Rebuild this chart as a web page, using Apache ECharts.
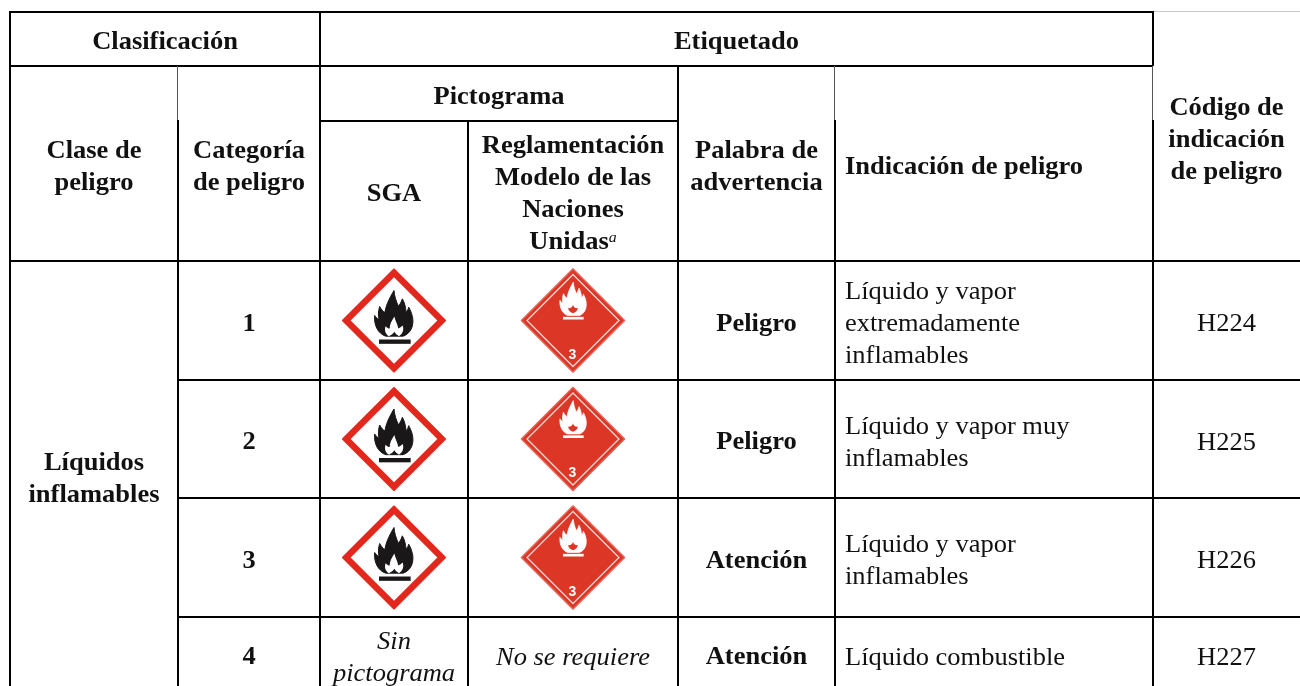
<!DOCTYPE html>
<html><head><meta charset="utf-8">
<style>html,body{margin:0;padding:0;background:#fff}#c{width:1300px;height:686px}</style>
<script src="https://cdn.jsdelivr.net/npm/echarts@6/dist/echarts.min.js"></script>
</head><body><div id="c"></div>
<script>
// Table grid (axis units equal pixels)
const columnEdges = [10, 178, 320, 468, 678, 835, 1153, 1300];
const rowEdges = [12, 66, 121, 261, 380, 498, 617, 691];

// Header cells: [first column edge, last column edge, first row edge, last row edge, lines]
const headerCells = [
  [0, 2, 0, 1, ['Clasificación']],
  [2, 6, 0, 1, ['Etiquetado']],
  [0, 1, 1, 3, ['Clase de', 'peligro']],
  [1, 2, 1, 3, ['Categoría', 'de peligro']],
  [2, 4, 1, 2, ['Pictograma']],
  [2, 3, 2, 3, ['SGA']],
  [3, 4, 2, 3, ['Reglamentación', 'Modelo de las', 'Naciones', 'Unidas{sup|a}']],
  [4, 5, 1, 3, ['Palabra de', 'advertencia']],
  [6, 7, 0, 3, ['Código de', 'indicación', 'de peligro']]
];
const headerLeftCells = [[5, 6, 1, 3, ['Indicación de peligro']]];
const hazardClass = ['Líquidos', 'inflamables'];
const categories = ['1', '2', '3', '4'];
const signalWords = ['Peligro', 'Peligro', 'Atención', 'Atención'];
const statements = [
  ['Líquido y vapor', 'extremadamente', 'inflamables'],
  ['Líquido y vapor muy', 'inflamables'],
  ['Líquido y vapor', 'inflamables'],
  ['Líquido combustible']
];
const codes = ['H224', 'H225', 'H226', 'H227'];
const noPictogramGHS = ['Sin', 'pictograma'];
const noPictogramUN = ['No se requiere'];
const pictogramRows = [3, 4, 5];

// Rules as [edge, from, to, tone]
const horizontalRules = [
  [0, 0, 6, 0], [0, 6, 7, 2], [1, 0, 6, 0], [2, 2, 4, 0],
  [3, 0, 7, 0], [4, 1, 7, 0], [5, 1, 7, 0], [6, 1, 7, 0]
];
const verticalRules = [
  [0, 0, 7, 0], [1, 1, 2, 1], [1, 2, 7, 0], [2, 0, 7, 0], [3, 2, 7, 0],
  [4, 1, 7, 0], [5, 1, 2, 1], [5, 2, 7, 0], [6, 0, 1, 0], [6, 1, 2, 1], [6, 2, 7, 0]
];

const INK = '#111111';
const STRETCH = 1.06, SIZE = 25, PITCH = 32;
const FAMILY = '"Liberation Serif","Times New Roman",serif';
const tones = [{ c: '#000', w: 2 }, { c: '#555', w: 1 }, { c: '#c8c8c8', w: 1 }];

const textCells = [];
function addCell(c0, c1, r0, r1, lines, weight, italic, align) {
  textCells.push({ c0, c1, r0, r1, lines, weight, italic, align });
}
headerCells.forEach(h => addCell(h[0], h[1], h[2], h[3], h[4], 'bold', false, 'center'));
headerLeftCells.forEach(h => addCell(h[0], h[1], h[2], h[3], h[4], 'bold', false, 'left'));
addCell(0, 1, 3, 7, hazardClass, 'bold', false, 'center');
categories.forEach((t, i) => {
  addCell(1, 2, 3 + i, 4 + i, [t], 'bold', false, 'center');
  addCell(4, 5, 3 + i, 4 + i, [signalWords[i]], 'bold', false, 'center');
  addCell(5, 6, 3 + i, 4 + i, statements[i], 'normal', false, 'left');
  addCell(6, 7, 3 + i, 4 + i, [codes[i]], 'normal', false, 'center');
});
addCell(2, 3, 6, 7, noPictogramGHS, 'normal', true, 'center');
addCell(3, 4, 6, 7, noPictogramUN, 'normal', true, 'center');

const FLAME = 'M140 212C118 205 104 180 107 150C111 156 115 160 120 163C117 150 118 135 122 123C127 132 132 138 138 141C140 122 150 100 165 75C166 92 172 108 178 122C182 118 187 110 190 100C197 112 200 125 201 140C205 136 208 131 209 125C218 140 224 160 221 176C219 192 208 207 192 212Z';
const INNER = 'M150 212C140 206 135 195 140 182C144 187 148 189 152 189C152 177 158 166 166 153C169 166 176 177 178 189C183 187 187 184 191 180C196 194 190 206 180 212C175 209 170 206 166 199C162 206 156 209 150 212Z';
const diamond = r => `M165 ${165 - r}L${165 + r} 165L165 ${165 + r}L${165 - r} 165Z`;

function ghsPictogram(cx, cy) {
  return { type: 'group', x: cx, y: cy, scaleX: 1 / 3, scaleY: 1 / 3, children: [{
    type: 'group', x: -165, y: -165, children: [
      { type: 'path', shape: { pathData: diamond(153) }, style: { fill: '#e2281c', stroke: '#e2281c', lineWidth: 6, lineJoin: 'round' } },
      { type: 'path', shape: { pathData: diamond(130) }, style: { fill: '#fff' } },
      { type: 'path', shape: { pathData: FLAME }, style: { fill: '#1a1718', stroke: '#1a1718', lineWidth: 3, lineJoin: 'round' } },
      { type: 'path', shape: { pathData: INNER }, style: { fill: '#fff' } },
      { type: 'rect', shape: { x: 120, y: 222, width: 95, height: 13 }, style: { fill: '#1a1718' } }
    ] }] };
}
function unPictogram(cx, cy) {
  return { type: 'group', x: cx, y: cy, scaleX: 1 / 3, scaleY: 1 / 3, children: [{
    type: 'group', x: -165, y: -165, children: [
      { type: 'path', shape: { pathData: diamond(155) }, style: { fill: '#dc3627', stroke: '#e56a5d', lineWidth: 4, lineJoin: 'round' } },
      { type: 'path', shape: { pathData: diamond(138) }, style: { fill: 'none', stroke: '#f6d5cf', lineWidth: 4 } },
      { type: 'path', x: 52, y: -5, scaleX: 0.69, scaleY: 0.73, shape: { pathData: FLAME }, style: { fill: '#fff', stroke: '#fff', lineWidth: 3, lineJoin: 'round' } },
      { type: 'path', shape: { pathData: 'M165 118C167 125 171 129 180 128C178 136 172 140 165 143C158 140 152 136 150 128C159 129 163 125 165 118Z' }, style: { fill: '#dc3627' } },
      { type: 'rect', shape: { x: 135, y: 154, width: 62, height: 8 }, style: { fill: '#fff' } },
      { type: 'text', style: { text: '3', x: 163, y: 268, fill: '#fff', font: 'bold 42px "Liberation Sans",Arial,sans-serif', align: 'center', verticalAlign: 'middle' } }
    ] }] };
}

const chart = echarts.init(document.getElementById('c'), null, { renderer: 'canvas' });
const allRules = horizontalRules.map(r => ({ h: true, r })).concat(verticalRules.map(r => ({ h: false, r })));
chart.setOption({
  animation: false,
  backgroundColor: '#fff',
  grid: { left: 0, right: 0, top: 0, bottom: 0 },
  xAxis: { type: 'value', min: 0, max: 1300, show: false },
  yAxis: { type: 'value', min: 0, max: 686, inverse: true, show: false },
  series: [
    { type: 'custom', coordinateSystem: 'cartesian2d', silent: true, clip: false, z: 1,
      data: allRules.map((_, i) => [i]), encode: { x: 0 },
      renderItem(p, api) {
        const { h, r } = allRules[p.dataIndex];
        const a = h ? api.coord([columnEdges[r[1]], rowEdges[r[0]]]) : api.coord([columnEdges[r[0]], rowEdges[r[1]]]);
        const b = h ? api.coord([columnEdges[r[2]], rowEdges[r[0]]]) : api.coord([columnEdges[r[0]], rowEdges[r[2]]]);
        const t = tones[r[3]];
        const ext = t.w === 2 ? 1 : 0;
        return { type: 'rect',
          shape: h ? { x: a[0] - ext, y: a[1] - 1, width: b[0] - a[0] + ext, height: t.w }
                   : { x: a[0] - 1, y: a[1] - ext, width: t.w, height: b[1] - a[1] + ext },
          style: { fill: t.c } };
      } },
    { type: 'custom', coordinateSystem: 'cartesian2d', silent: true, clip: false, z: 2,
      data: pictogramRows.map(r => [r]), encode: { x: 0 },
      renderItem(p, api) {
        const r = pictogramRows[p.dataIndex];
        const cy = (rowEdges[r] + rowEdges[r + 1]) / 2;
        const a = api.coord([(columnEdges[2] + columnEdges[3]) / 2, cy]);
        const b = api.coord([(columnEdges[3] + columnEdges[4]) / 2, cy]);
        return { type: 'group', children: [ghsPictogram(a[0], a[1]), unPictogram(b[0], b[1])] };
      } },
    { type: 'custom', coordinateSystem: 'cartesian2d', silent: true, clip: false, z: 3,
      data: textCells.map((_, i) => [i]), encode: { x: 0 },
      renderItem(p, api) {
        const c = textCells[p.dataIndex];
        const x = c.align === 'left' ? columnEdges[c.c0] + 10 : (columnEdges[c.c0] + columnEdges[c.c1]) / 2;
        const y = (rowEdges[c.r0] + rowEdges[c.r1]) / 2;
        const o = api.coord([x, y]);
        const font = `${c.italic ? 'italic ' : ''}${c.weight} ${SIZE}px ${FAMILY}`;
        return { type: 'group', children: c.lines.map((ln, i) => ({
          type: 'text',
          x: o[0], y: o[1] + 4 + (i - (c.lines.length - 1) / 2) * PITCH,
          scaleX: STRETCH,
          style: { text: ln, x: 0, y: 0, fill: INK, font, align: c.align, verticalAlign: 'middle',
            rich: { sup: { fill: INK, font: `italic 15px ${FAMILY}`, verticalAlign: 'top', lineHeight: 22 } } }
        })) };
      } }
  ]
});
</script></body></html>
